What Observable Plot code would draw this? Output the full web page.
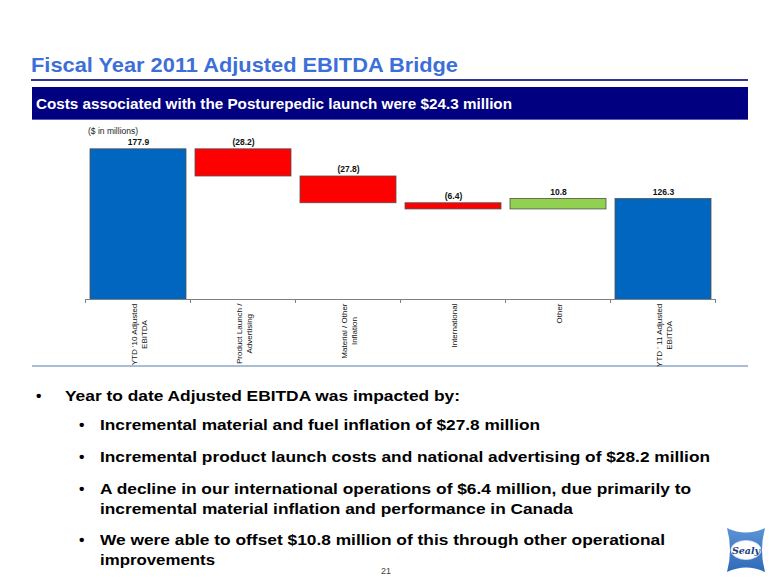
<!DOCTYPE html>
<html><head><meta charset="utf-8">
<script src="https://cdn.jsdelivr.net/npm/d3@7"></script>
<script src="https://cdn.jsdelivr.net/npm/@observablehq/plot@0.6"></script>
<style>
body{margin:0;background:#fff;}
#slide{position:relative;width:780px;height:585px;overflow:hidden;background:#fff;font-family:Arial,"Liberation Sans",Helvetica,sans-serif;}
.t{position:absolute;white-space:nowrap;line-height:1;transform-origin:0 0;}
.blk{position:absolute;}
#chart{position:absolute;left:0;top:125px;}
</style></head><body><div id="slide">
<div class="blk" style="left:31px;top:79px;width:717px;height:2px;background:#33339c;"></div>
<div class="blk" style="left:32px;top:87px;width:716px;height:33px;background:#000080;border-bottom:1px solid #5a5ab0;box-sizing:border-box;"></div>
<div class="blk" style="left:32px;top:365px;width:716px;height:2px;background:#a9bcd8;"></div>
<div id="chart"></div>
<svg class="blk" style="left:727px;top:528px;" width="38" height="44" viewBox="0 0 38 44">
  <defs><linearGradient id="lg" x1="0" y1="0" x2="0" y2="1"><stop offset="0" stop-color="#5b93d6"/><stop offset="1" stop-color="#2f6ab8"/></linearGradient></defs>
  <path d="M0,0 Q19,9 38,0 Q32,22 38,44 Q19,35 0,44 Q6,22 0,0 Z" fill="url(#lg)"/>
  <ellipse cx="19" cy="22" rx="15" ry="9.5" fill="#fff" stroke="#d8e4f4" stroke-width="0.8"/>
  <text x="19" y="25.5" text-anchor="middle" font-family="DejaVu Serif, serif" font-style="italic" font-weight="bold" font-size="9.5" fill="#1d3f7c">Sealy</text>
</svg>
</div>
<script>
// ---- data ----
const categories = ["YTD '10 Adjusted\nEBITDA", "Product Launch /\nAdvertising", "Material / Other\nInflation", "International", "Other", "YTD ' 11 Adjusted\nEBITDA"];
const values = [177.9, -28.2, -27.8, -6.4, 10.8, 126.3];
const kinds = ["total", "decrease", "decrease", "decrease", "increase", "total"];
const valueLabels = ["177.9", "(28.2)", "(27.8)", "(6.4)", "10.8", "126.3"];
const titleText = "Fiscal Year 2011 Adjusted EBITDA Bridge";
const bannerText = "Costs associated with the Posturepedic launch were $24.3 million";
const unitText = "($ in millions)";
const bulletLines = [
  {lvl:0, bullet:true, text:"Year to date Adjusted EBITDA was impacted by:"},
  {lvl:1, bullet:true, text:"Incremental material and fuel inflation of $27.8 million"},
  {lvl:1, bullet:true, text:"Incremental product launch costs and national advertising of $28.2 million"},
  {lvl:1, bullet:true, text:"A decline in our international operations of $6.4 million, due primarily to"},
  {lvl:1, bullet:false, text:"incremental material inflation and performance in Canada"},
  {lvl:1, bullet:true, text:"We were able to offset $10.8 million of this through other operational"},
  {lvl:1, bullet:false, text:"improvements"}
];
const pageNumber = "21";

// ---- text helpers ----
const slide = document.getElementById("slide");
function place(text, o) {
  const el = document.createElement("div");
  el.className = "t";
  el.textContent = text;
  el.style.fontSize = o.size + "px";
  el.style.fontWeight = o.weight || "normal";
  el.style.color = o.color || "#000";
  el.style.top = (o.baseline - 0.8465 * o.size) + "px";
  slide.appendChild(el);
  const w = el.getBoundingClientRect().width;
  let sx = o.width ? o.width / w : (o.scale || 1);
  el.style.transform = `scaleX(${sx})`;
  const left = o.center != null ? o.center - w * sx / 2 : o.x;
  el.style.left = left + "px";
  return el;
}
place(titleText, {x:31, baseline:71.7, size:21, weight:"bold", color:"#3d6fd9", width:427});
place(bannerText, {x:36, baseline:109, size:15, weight:"bold", color:"#fff", width:476});
place(unitText, {x:88, baseline:134, size:8.5, color:"#222"});

const bulletBaselines = [401.5, 430.5, 462, 494, 514, 545.5, 565.5];
const bulletWidths = [395, 440, 610, 591, 473, 565, 115];
bulletLines.forEach((b, i) => {
  const tx = b.lvl === 0 ? 64.5 : 99.5;
  const bx = b.lvl === 0 ? 36 : 79;
  if (b.bullet) place("•", {x:bx, baseline:bulletBaselines[i], size:15.5, weight:"bold"});
  place(b.text, {x:tx, baseline:bulletBaselines[i], size:15.5, weight:"bold", width:bulletWidths[i]});
});
place(pageNumber, {center:386, baseline:575, size:9, color:"#444"});

// ---- waterfall rows ----
let run = 0;
const rows = categories.map((c, i) => {
  const v = values[i];
  let lo, hi;
  if (kinds[i] === "total") { lo = 0; hi = v; run = v; }
  else { const s = run; run = s + v; lo = Math.min(s, run); hi = Math.max(s, run); }
  return {cat: c, lo, hi, kind: kinds[i], label: valueLabels[i]};
});

const yMin = 22, yMax = 180;
const padIn = 0.086, padOut = 0.043;
const ctx = document.createElement("canvas").getContext("2d");
ctx.font = "8px Arial, 'Liberation Sans'";
const labelMarks = categories.map(c => {
  const w = Math.max(...c.split("\n").map(s => ctx.measureText(s).width));
  return Plot.text([c], {x: d => d, frameAnchor: "bottom", rotate: -90, textAnchor: "middle",
    lineAnchor: "middle", dy: 4 + w / 2, fontSize: 8, lineHeight: 1.25, fill: "#111"});
});

const boundaryTicks = (index, scales) => {
  const x = scales.x, y = scales.y;
  const step = x(categories[1]) - x(categories[0]);
  const gap = step * padIn / 2;
  const yb = y(yMin);
  const g = d3.create("svg:g").attr("stroke", "#808080").attr("stroke-width", 1);
  const xs = categories.map(c => x(c) - gap);
  xs.push(x(categories[categories.length - 1]) + step - gap);
  xs.forEach(px => g.append("line").attr("x1", px).attr("x2", px).attr("y1", yb).attr("y2", yb + 4));
  return g.node();
};

const chart = Plot.plot({
  width: 780, height: 250,
  marginLeft: 85, marginRight: 65, marginTop: 21.8, marginBottom: 76,
  style: {fontFamily: "Arial, 'Liberation Sans', sans-serif", background: "transparent"},
  x: {domain: categories, paddingInner: padIn, paddingOuter: padOut, axis: null},
  y: {domain: [yMin, yMax], axis: null},
  color: {domain: ["total", "decrease", "increase"], range: ["#0066c0", "#ff0000", "#92d050"]},
  marks: [
    Plot.barY(rows, {x: "cat", y1: "lo", y2: "hi", fill: "kind", stroke: "#505050", strokeWidth: 0.8, clip: true}),
    Plot.ruleY([yMin], {stroke: "#808080", strokeWidth: 1}),
    boundaryTicks,
    Plot.text(rows, {x: "cat", y: "hi", text: "label", dy: -4, lineAnchor: "bottom", fontSize: 8.5, fontWeight: "bold", fill: "#111"}),
    ...labelMarks
  ]
});
document.getElementById("chart").appendChild(chart);
</script>
</body></html>
